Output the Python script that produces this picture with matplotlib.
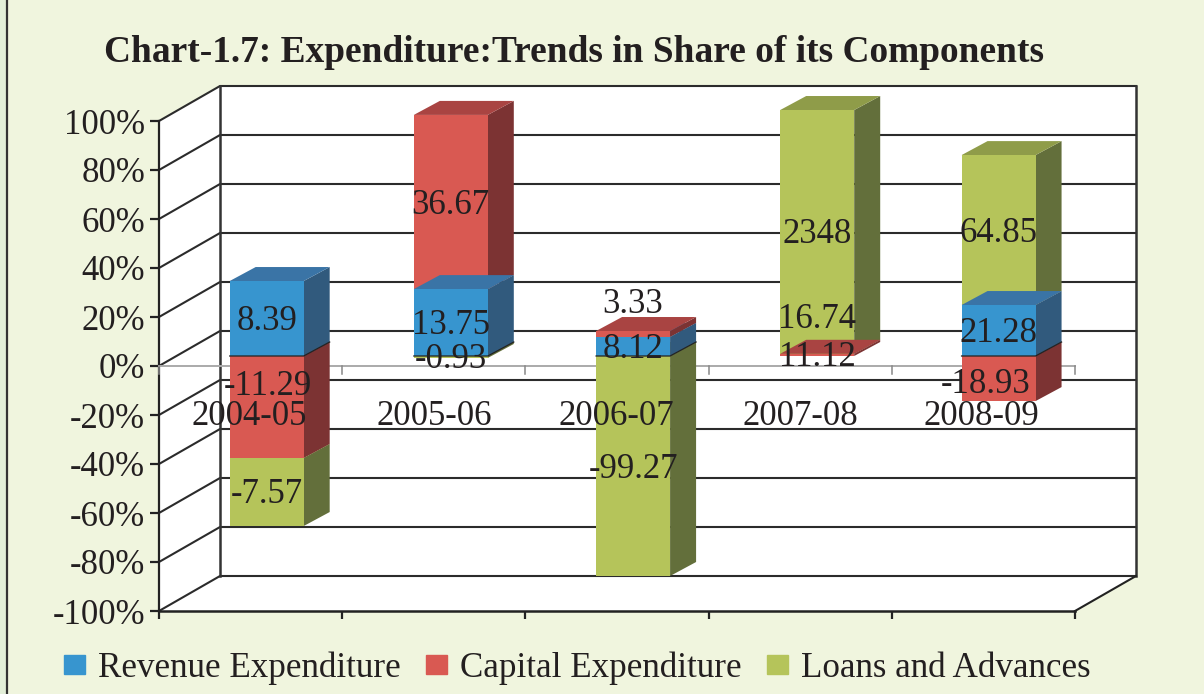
import matplotlib
matplotlib.use('Agg')
import matplotlib.pyplot as plt
from matplotlib.patches import Patch, Rectangle
from matplotlib.lines import Line2D

plt.rcParams['font.family'] = ['Liberation Serif', 'DejaVu Serif']

categories = ['2004-05', '2005-06', '2006-07', '2007-08', '2008-09']
series_names = ['Revenue Expenditure', 'Capital Expenditure', 'Loans and Advances']

# heights, they do not agree with the printed labels
revenue = [30.6, 27.3, 7.8, 0, 20.8]
capital = [-41.6, 71.1, 2.4, 0.9, -18.4]
loans = [-27.8, -0.8, -89.8, 99.5, 61.2]

revenue_labels = ['8.39', '13.75', '8.12', '16.74', '21.28']
capital_labels = ['-11.29', '36.67', '3.33', '11.12', '-18.93']
loans_labels = ['-7.57', '-0.93', '-99.27', '2348', '64.85']

y_ticks = [100, 80, 60, 40, 20, 0, -20, -40, -60, -80, -100]

values = [revenue, capital, loans]
labels = [revenue_labels, capital_labels, loans_labels]

front = ['#3795cf', '#d95952', '#b5c45a']
top = ['#3a74a6', '#a94442', '#8f9c49']
side = ['#315a7d', '#7c3333', '#636f3b']

# order in which the stack pieces overlap, different for 2006-07
draw_order = [[2, 1, 0], [2, 1, 0], [2, 0, 1], [2, 1, 0], [2, 1, 0]]
# label shifts in pixels (series, category): (dx, dy)
label_shift = {(1, 0): (1, 23), (0, 3): (0, 40), (1, 2): (0, 32), (1, 4): (-13, -3)}
# the bars are not quite evenly spaced in the source
centers = [0.495, 1.5, 2.495, 3.5, 4.49]

bg = '#f0f5de'
ink = '#231f20'

fig = plt.figure(figsize=(12.04, 6.94), dpi=100, facecolor=bg)
fig.add_artist(Rectangle((0, 0), 6 / 1204, 1, transform=fig.transFigure, color='#e3efd8'))
fig.add_artist(Line2D([6.5 / 1204] * 2, [0, 1], transform=fig.transFigure, color='#333333', lw=1.6))

ax = fig.add_axes([159 / 1204, 83 / 694, 916 / 1204, 490 / 694])
ax.patch.set_visible(False)
ax.spines['top'].set_visible(False)
ax.spines['right'].set_visible(False)
ax.spines['left'].set_color('#222222')
ax.spines['bottom'].set_color('#222222')
ax.spines['left'].set_linewidth(1.6)
ax.spines['bottom'].set_linewidth(1.8)

per_x = 916 / 5  # pixels per category
per_y = 490 / 200  # pixels per percent
wall_dx, wall_dy = 61 / per_x, 35 / per_y
bar_dx, bar_dy = 17 / per_x, 10 / per_y
depth_dx, depth_dy = 26 / per_x, 14 / per_y
bar_w = 74 / per_x

# walls and floor
ax.fill([0, wall_dx, wall_dx, 0], [-100, -100 + wall_dy, 100 + wall_dy, 100], color='white', lw=0, clip_on=False, zorder=1)
ax.fill([wall_dx, 5 + wall_dx, 5 + wall_dx, wall_dx], [-100 + wall_dy, -100 + wall_dy, 100 + wall_dy, 100 + wall_dy],
        color='white', lw=0, clip_on=False, zorder=1)
ax.fill([0, 5, 5 + wall_dx, wall_dx], [-100, -100, -100 + wall_dy, -100 + wall_dy], color='white', lw=0, clip_on=False, zorder=1)

for t in y_ticks:
    ax.plot([0, wall_dx, 5 + wall_dx], [t, t + wall_dy, t + wall_dy], color='#2b2b2b', lw=1.5, clip_on=False, zorder=2)
ax.plot([wall_dx, wall_dx], [-100 + wall_dy, 100 + wall_dy], color='#333333', lw=1.8, clip_on=False, zorder=2)
ax.plot([5 + wall_dx, 5 + wall_dx], [-100 + wall_dy, 100 + wall_dy], color='#333333', lw=1.8, clip_on=False, zorder=2)
ax.plot([5, 5 + wall_dx], [-100, -100 + wall_dy], color='#222222', lw=1.5, clip_on=False, zorder=2)

# grey zero axis with its small ticks
ax.plot([0, 5], [0, 0], color='#aaaaaa', lw=1.4, clip_on=False, zorder=3)
for i in range(6):
    ax.plot([i, i], [0, -3.4], color='#888888', lw=1.1, clip_on=False, zorder=3)

# stacks
z = 4
for i in range(len(categories)):
    pos, neg = 0, 0
    pieces = {}
    for s in range(3):
        v = values[s][i]
        if v >= 0:
            pieces[s] = (pos, pos + v)
            pos += v
        else:
            pieces[s] = (neg, neg + v)
            neg += v
    x0 = centers[i] - bar_w / 2 + bar_dx
    x1 = x0 + bar_w
    for s in draw_order[i]:
        lo, hi = min(pieces[s]), max(pieces[s])
        if hi == lo:
            continue
        b0, b1 = lo + bar_dy, hi + bar_dy
        ax.fill([x1, x1 + depth_dx, x1 + depth_dx, x1], [b0, b0 + depth_dy, b1 + depth_dy, b1],
                color=side[s], lw=0, clip_on=False, zorder=z)
        ax.fill([x0, x1, x1 + depth_dx, x0 + depth_dx], [b1, b1, b1 + depth_dy, b1 + depth_dy],
                color=top[s], lw=0, clip_on=False, zorder=z)
        ax.bar(centers[i] + bar_dx, b1 - b0, bar_w, bottom=b0, color=front[s], lw=0, clip_on=False, zorder=z)
        z += 1
    # dark seam where the up and down stacks meet
    if pos > 0 and neg < 0:
        ax.plot([x0, x1, x1 + depth_dx], [bar_dy, bar_dy, bar_dy + depth_dy], color='#222222', lw=0.9, clip_on=False, zorder=z)
    for s in range(3):
        mid = (pieces[s][0] + pieces[s][1]) / 2 + bar_dy
        dx, dy = label_shift.get((s, i), (0, 0))
        ax.annotate(labels[s][i], xy=(centers[i] + bar_dx, mid), xytext=(dx * 0.72, (dy - 3) * 0.72), textcoords='offset points',
                    ha='center', va='center', fontsize=25, color=ink, zorder=30, annotation_clip=False)

for i, name in enumerate(categories):
    ax.text(centers[i], -20.8, name, ha='center', va='center', fontsize=25, color=ink, zorder=30)

ax.set_xlim(0, 5)
ax.set_ylim(-100, 100)
ax.set_xticks(range(6))
ax.set_xticklabels([])
ax.set_yticks(y_ticks)
ax.set_yticklabels(['%d%%' % t for t in y_ticks], fontsize=25, color=ink)
ax.tick_params(axis='y', length=6.5, width=1.6, color='#222222', pad=3.5)
ax.tick_params(axis='x', length=5.8, width=1.6, color='#222222')

fig.text(574 / 1204, 1 - 52 / 694, 'Chart-1.7: Expenditure:Trends in Share of its Components',
         ha='center', va='center', fontsize=26.9, fontweight='bold', color=ink)

handles = [Patch(color=c) for c in front]
fig.legend(handles, series_names, loc='lower left', bbox_to_anchor=(64 / 1204, 9 / 694), ncol=3, frameon=False,
           fontsize=25.2, labelcolor=ink, borderpad=0, borderaxespad=0, handlelength=0.6, handleheight=0.46,
           handletextpad=0.37, columnspacing=0.72)

fig.savefig('out.png', dpi=100, facecolor=bg)
